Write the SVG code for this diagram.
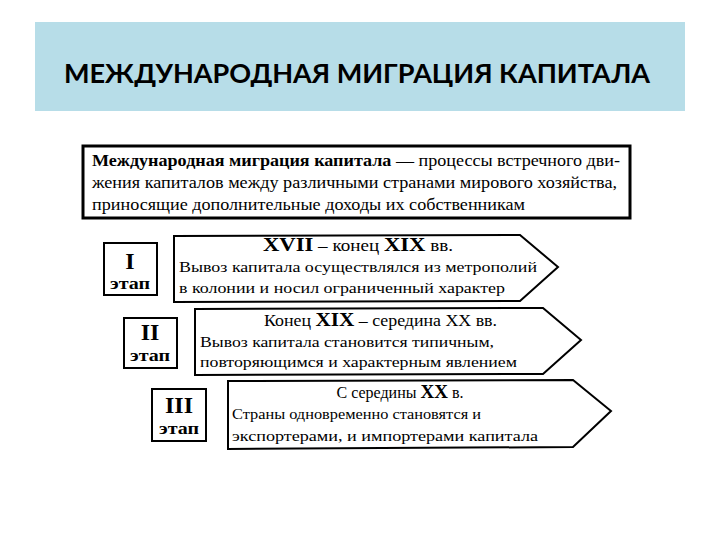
<svg xmlns="http://www.w3.org/2000/svg" width="720" height="540" viewBox="0 0 720 540">
<style>
.t{font-family:"Liberation Serif","Times New Roman",serif;fill:#000}
.b{font-weight:bold}
.sh{fill:#fff;stroke:#000;stroke-width:2}
.lbl{font-family:"Liberation Serif",serif;font-weight:bold;text-anchor:middle}
</style>
<rect width="720" height="540" fill="#fff"/>
<g id="title">
<rect x="35" y="22" width="650" height="89" fill="#b7dde8"/>
<text x="357" y="83" text-anchor="middle" font-family="Lato, 'Open Sans', sans-serif" font-weight="bold" font-size="27" textLength="586" lengthAdjust="spacingAndGlyphs">МЕЖДУНАРОДНАЯ МИГРАЦИЯ КАПИТАЛА</text>
</g>
<g id="definition">
<rect x="83" y="146" width="547" height="72" fill="#fff" stroke="#000" stroke-width="3"/>
<text class="t" x="92" y="166" font-size="16" textLength="528" lengthAdjust="spacingAndGlyphs"><tspan class="b">Международная миграция капитала</tspan> — процессы встречного дви-</text>
<text class="t" x="92" y="188" font-size="16" textLength="525" lengthAdjust="spacingAndGlyphs">жения капиталов между различными странами мирового хозяйства,</text>
<text class="t" x="92" y="210" font-size="16" textLength="433" lengthAdjust="spacingAndGlyphs">приносящие дополнительные доходы их собственникам</text>
</g>
<g id="stage1-label">
<rect class="sh" x="104" y="243" width="53" height="52"/>
<text class="lbl" x="130" y="269" font-size="24">I</text>
<text class="lbl" x="130" y="289" font-size="16" textLength="40" lengthAdjust="spacingAndGlyphs">этап</text>
</g>
<g id="stage1">
<polygon class="sh" points="174,236 520,235 558,267 520,301 174,302"/>
<text class="t" x="263" y="251" font-size="16" textLength="190" lengthAdjust="spacingAndGlyphs"><tspan class="b" font-size="19">XVII</tspan> – конец <tspan class="b" font-size="19">XIX</tspan> вв.</text>
<text class="t" x="179" y="272" font-size="15" textLength="358" lengthAdjust="spacingAndGlyphs">Вывоз капитала осуществлялся из метрополий</text>
<text class="t" x="179" y="293" font-size="15" textLength="326" lengthAdjust="spacingAndGlyphs">в колонии и носил ограниченный характер</text>
</g>
<g id="stage2-label">
<rect class="sh" x="124" y="318" width="53" height="50"/>
<text class="lbl" x="150" y="340" font-size="24">II</text>
<text class="lbl" x="150" y="361" font-size="16" textLength="40" lengthAdjust="spacingAndGlyphs">этап</text>
</g>
<g id="stage2">
<polygon class="sh" points="195,309 543,308 581,340 543,374 195,375"/>
<text class="t" x="264" y="326" font-size="16" textLength="233" lengthAdjust="spacingAndGlyphs">Конец <tspan class="b" font-size="19">XIX</tspan> – середина XX вв.</text>
<text class="t" x="200" y="347" font-size="15" textLength="294" lengthAdjust="spacingAndGlyphs">Вывоз капитала становится типичным,</text>
<text class="t" x="200" y="367" font-size="15" textLength="317" lengthAdjust="spacingAndGlyphs">повторяющимся и характерным явлением</text>
</g>
<g id="stage3-label">
<rect class="sh" x="152" y="389" width="54" height="52"/>
<text class="lbl" x="179" y="413" font-size="24">III</text>
<text class="lbl" x="179" y="434" font-size="16" textLength="40" lengthAdjust="spacingAndGlyphs">этап</text>
</g>
<g id="stage3">
<polygon class="sh" points="228,381 573,380 611,411 573,447 228,449"/>
<text class="t" x="400" y="398" font-size="16" text-anchor="middle">С середины <tspan class="b" font-size="19">XX</tspan> в.</text>
<text class="t" x="232" y="419" font-size="15" textLength="249" lengthAdjust="spacingAndGlyphs">Страны одновременно становятся и</text>
<text class="t" x="232" y="441" font-size="15" textLength="306" lengthAdjust="spacingAndGlyphs">экспортерами, и импортерами капитала</text>
</g>
<g id="connectors"></g>
</svg>
